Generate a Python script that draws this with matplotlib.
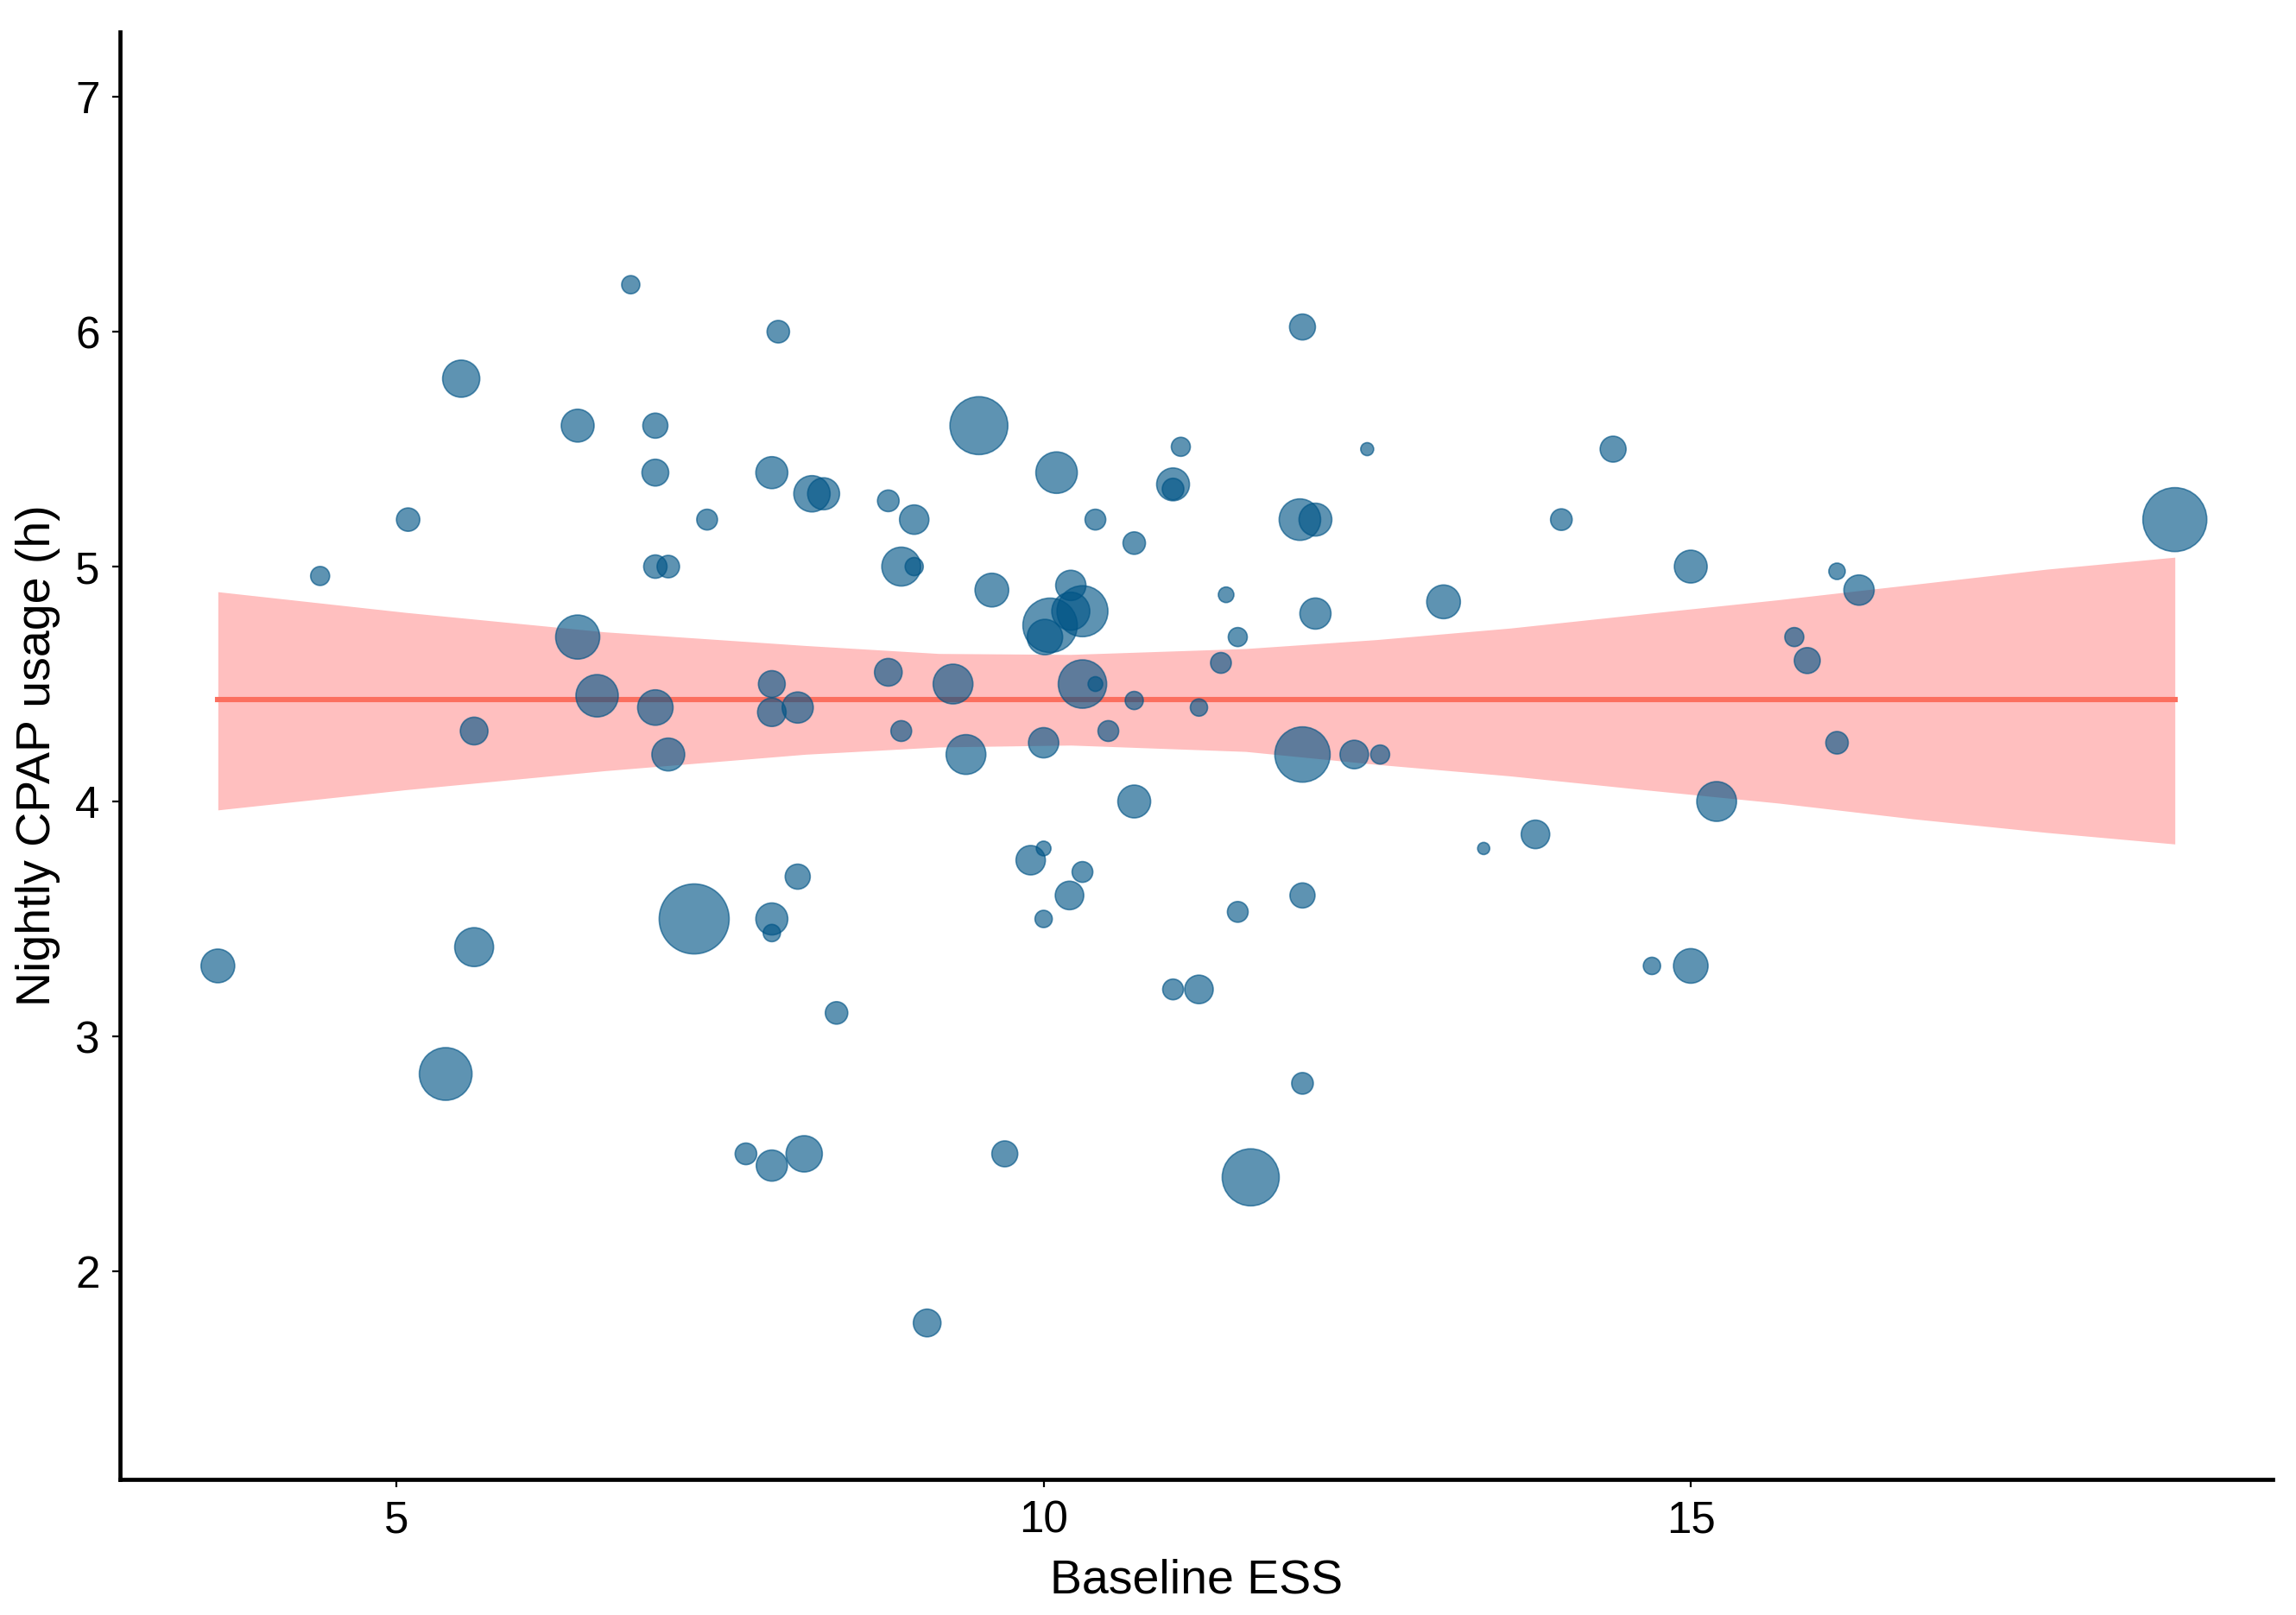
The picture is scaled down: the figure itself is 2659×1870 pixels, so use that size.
import numpy as np
import matplotlib
matplotlib.use("Agg")
import matplotlib.pyplot as plt

plt.rcParams['font.family'] = ['Liberation Sans', 'DejaVu Sans']

# baseline ESS score, nightly CPAP usage (h), bubble weight
ess = [6.81, 7.95, 5.50, 6.40, 7.00, 7.00, 7.90, 5.09, 7.40, 8.21,
       8.30, 8.80, 9.00, 4.41, 7.00, 7.10, 8.90, 9.00, 9.50, 10.10,
       10.40, 9.60, 10.21, 10.70, 11.00, 11.00, 11.06, 12.00, 12.50, 11.98,
       12.10, 14.40, 14.00, 15.00, 18.74, 13.09, 12.10, 11.41, 11.50, 11.37,
       16.13, 16.30, 15.80, 15.90, 16.13, 10.05, 10.30, 10.21, 6.40, 6.55,
       5.60, 7.00, 7.10, 7.90, 7.90, 8.10, 8.80, 8.90, 9.30, 9.40,
       10.30, 10.40, 10.70, 10.50, 10.00, 11.20, 12.00, 12.40, 12.60, 10.70,
       15.20, 3.62, 5.60, 7.30, 7.90, 7.90, 8.10, 9.90, 10.00, 10.30,
       10.20, 10.00, 12.00, 11.50, 13.40, 13.80, 14.70, 15.00, 8.40, 11.00,
       11.20, 5.38, 12.00, 7.70, 7.90, 8.15, 9.70, 11.60, 9.10, 10.01]
usage = [6.20, 6.00, 5.80, 5.60, 5.60, 5.40, 5.40, 5.20, 5.20, 5.31,
         5.31, 5.28, 5.20, 4.96, 5.00, 5.00, 5.00, 5.00, 5.60, 5.40,
         5.20, 4.90, 4.92, 5.10, 5.35, 5.33, 5.51, 6.02, 5.50, 5.20,
         5.20, 5.50, 5.20, 5.00, 5.20, 4.85, 4.80, 4.88, 4.70, 4.59,
         4.98, 4.90, 4.70, 4.60, 4.25, 4.75, 4.81, 4.81, 4.70, 4.45,
         4.30, 4.40, 4.20, 4.50, 4.38, 4.40, 4.55, 4.30, 4.50, 4.20,
         4.50, 4.50, 4.43, 4.30, 4.25, 4.40, 4.20, 4.20, 4.20, 4.00,
         4.00, 3.30, 3.38, 3.50, 3.50, 3.44, 3.68, 3.75, 3.80, 3.70,
         3.60, 3.50, 3.60, 3.53, 3.80, 3.86, 3.30, 3.30, 3.10, 3.20,
         3.20, 2.84, 2.80, 2.50, 2.45, 2.50, 2.50, 2.40, 1.78, 4.70]
weight = [21, 26, 43, 38, 29, 31, 37, 27, 24, 42,
          37, 25, 34, 22, 27, 26, 45, 21, 67, 48,
          24, 39, 35, 26, 38, 25, 22, 30, 15, 48,
          38, 30, 25, 38, 74, 39, 36, 18, 22, 24,
          19, 35, 22, 30, 26, 63, 59, 44, 51, 49,
          32, 41, 38, 31, 33, 36, 32, 24, 46, 46,
          56, 17, 21, 24, 35, 20, 64, 33, 22, 38,
          46, 39, 45, 81, 37, 20, 29, 34, 17, 24,
          33, 20, 29, 24, 14, 33, 20, 40, 26, 24,
          33, 61, 25, 25, 36, 42, 30, 66, 32, 41]

# linear fit and its 95% band
fit_x = [3.62, 18.74]
fit_y = [4.433, 4.433]
band_x = [3.62, 5.07, 6.61, 8.16, 9.19, 10.21, 11.56,
          12.57, 13.60, 14.64, 15.68, 16.72, 17.75, 18.74]
band_hi = [4.893, 4.805, 4.722, 4.664, 4.630, 4.626, 4.651,
           4.689, 4.738, 4.799, 4.859, 4.924, 4.989, 5.040]
band_lo = [3.964, 4.050, 4.131, 4.201, 4.232, 4.240, 4.213,
           4.158, 4.109, 4.050, 3.993, 3.926, 3.868, 3.819]

x = np.array(ess)
y = np.array(usage)
w = np.array(weight)

dpi = 200
fig = plt.figure(figsize=(2659 / dpi, 1870 / dpi), dpi=dpi)
ax = fig.add_axes([139 / 2659, 157 / 1870, 2493 / 2659, 1676 / 1870])

ax.fill_between(band_x, band_lo, band_hi, color='#FF0000', alpha=0.25, lw=0, zorder=1)
ax.plot(fit_x, fit_y, color='#FB6F5F', lw=2.2, zorder=2)

ax.scatter(x, y, s=(w * 72 / dpi) ** 2, color='#005486', alpha=0.63,
           edgecolors='#005486', linewidths=0.6, zorder=3)

pad = 0.05 * (x.max() - x.min())
ax.set_xlim(x.min() - pad, x.max() + pad)
ax.set_ylim(1.114, 7.276)
ax.set_xticks([5, 10, 15])
ax.set_yticks([2, 3, 4, 5, 6, 7])

for side in ['top', 'right']:
    ax.spines[side].set_visible(False)
for side in ['left', 'bottom']:
    ax.spines[side].set_linewidth(1.7)

ax.tick_params(axis='both', length=3.4, width=0.8, labelsize=18.4, pad=5, colors='black')
ax.set_xlabel('Baseline ESS', fontsize=20, labelpad=7)
ax.set_ylabel('Nightly CPAP usage (h)', fontsize=20, labelpad=6)

fig.savefig('out.png', dpi=dpi)
